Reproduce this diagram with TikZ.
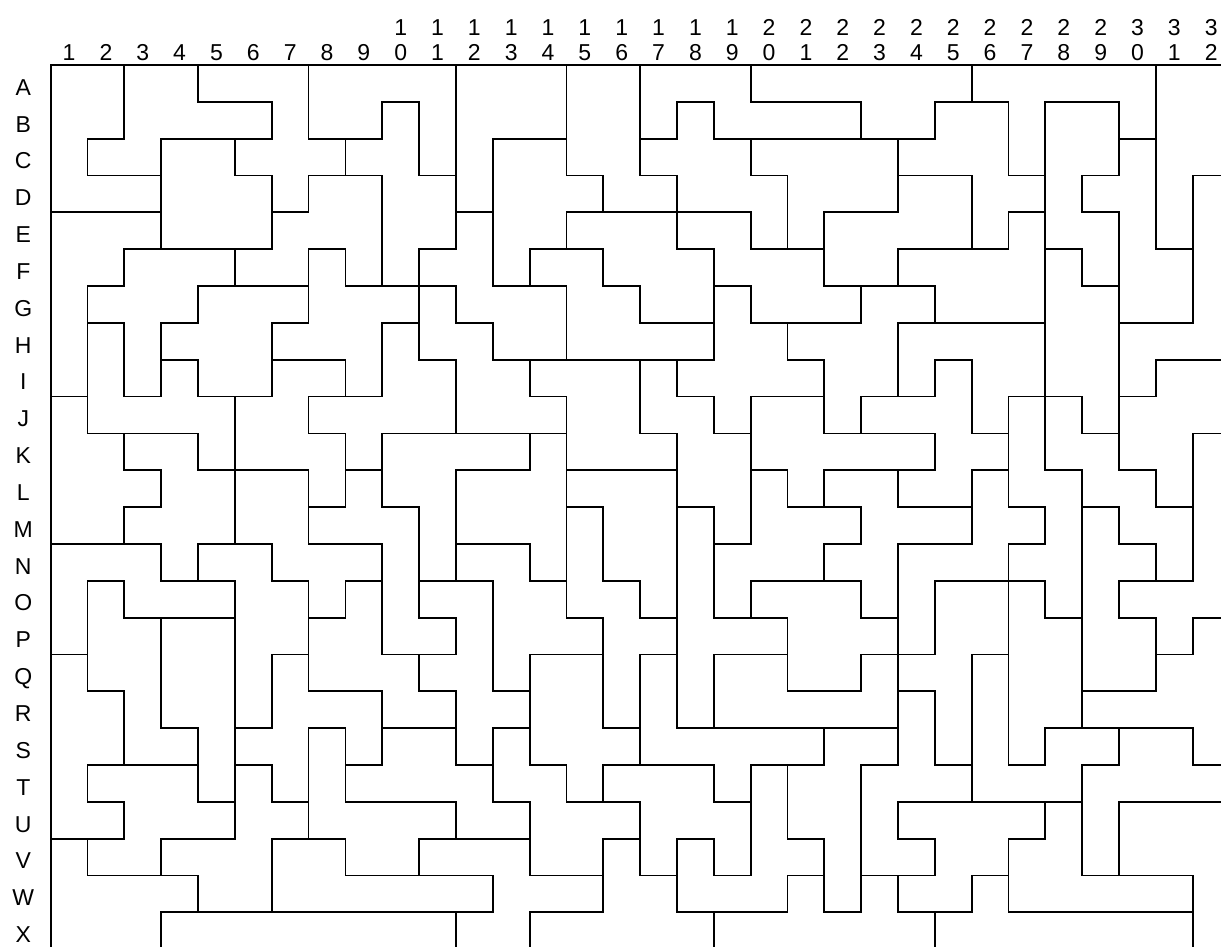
\documentclass[tikz,border=0pt]{standalone}
\usepackage{fontspec}
\setmainfont{Liberation Sans}
\begin{document}
\begin{tikzpicture}[x=1pt,y=-1pt,
  wall/.style={line width=1.8pt, line cap=rect, black},
  lbl/.style={font=\fontsize{23}{25}\selectfont, anchor=base, inner sep=0pt}]
\useasboundingbox (0,0) rectangle (1221,946);
\clip (0,0) rectangle (1221,946);
\begin{scope}[shift={(50.7,65)}, x=36.84pt, y=-36.84pt]
% horizontal walls: row boundary j, from column boundary a to b
\foreach \j/\a/\b in {
 0/0/32,
 1/4/6, 1/9/10, 1/17/18, 1/19/22, 1/24/26, 1/27/29,
 2/1/2, 2/3/6, 2/7/9, 2/12/14, 2/16/17, 2/18/24, 2/29/30,
 3/1/3, 3/5/6, 3/7/9, 3/10/11, 3/14/15, 3/16/17, 3/19/20, 3/23/25, 3/26/27, 3/28/29, 3/31/32,
 4/0/3, 4/6/7, 4/11/12, 4/14/19, 4/21/23, 4/26/27, 4/28/29,
 5/2/6, 5/7/8, 5/10/11, 5/13/15, 5/17/18, 5/19/21, 5/23/26, 5/27/28, 5/30/31,
 6/1/2, 6/4/7, 6/8/11, 6/12/14, 6/15/16, 6/18/19, 6/21/24, 6/28/29,
 7/1/2, 7/3/4, 7/6/7, 7/9/10, 7/11/12, 7/16/18, 7/19/22, 7/23/27, 7/29/31,
 8/3/4, 8/6/8, 8/10/11, 8/12/18, 8/20/21, 8/24/25, 8/30/32,
 9/0/1, 9/2/3, 9/4/6, 9/7/9, 9/13/14, 9/17/18, 9/19/21, 9/22/24, 9/26/28, 9/29/30,
 10/1/4, 10/7/8, 10/9/14, 10/16/17, 10/18/19, 10/21/24, 10/25/26, 10/28/29, 10/31/32,
 11/2/3, 11/4/7, 11/8/9, 11/11/13, 11/14/17, 11/19/20, 11/21/24, 11/25/26, 11/27/28, 11/29/30,
 12/2/3, 12/7/8, 12/9/10, 12/14/15, 12/17/18, 12/20/22, 12/23/25, 12/26/27, 12/28/29, 12/30/31,
 13/0/3, 13/4/6, 13/7/9, 13/11/13, 13/18/19, 13/21/22, 13/23/25, 13/26/27, 13/29/30,
 14/1/2, 14/3/5, 14/6/7, 14/8/9, 14/10/12, 14/13/14, 14/15/16, 14/19/22, 14/24/27, 14/29/31,
 15/2/5, 15/7/8, 15/10/11, 15/14/15, 15/16/17, 15/18/20, 15/22/23, 15/27/28, 15/29/30, 15/31/32,
 16/0/1, 16/6/7, 16/9/11, 16/13/15, 16/16/17, 16/18/20, 16/22/24, 16/25/26, 16/30/31,
 17/1/2, 17/7/9, 17/10/11, 17/12/13, 17/20/22, 17/23/24, 17/28/30,
 18/3/4, 18/5/6, 18/7/8, 18/9/11, 18/12/13, 18/15/16, 18/17/23, 18/27/31,
 19/1/4, 19/5/6, 19/8/9, 19/11/12, 19/13/14, 19/15/18, 19/19/21, 19/22/23, 19/24/25, 19/26/27, 19/28/29, 19/31/32,
 20/1/2, 20/4/5, 20/6/7, 20/8/11, 20/12/13, 20/14/16, 20/18/19, 20/23/28, 20/29/32,
 21/0/2, 21/3/5, 21/6/8, 21/10/13, 21/15/16, 21/17/18, 21/20/21, 21/23/24, 21/26/27,
 22/1/4, 22/8/12, 22/13/15, 22/16/17, 22/18/19, 22/20/21, 22/22/24, 22/25/26, 22/28/31,
 23/3/12, 23/13/15, 23/17/20, 23/21/22, 23/23/25, 23/26/31}
  \draw[wall] (\a,\j) -- (\b,\j);
% vertical walls: column boundary i, from row boundary a to b
\foreach \i/\a/\b in {
 0/0/24,
 1/2/3, 1/6/10, 1/14/17, 1/19/20, 1/21/22,
 2/0/2, 2/5/6, 2/7/9, 2/10/11, 2/12/13, 2/14/15, 2/17/19, 2/20/21,
 3/2/5, 3/7/9, 3/11/12, 3/13/14, 3/15/18, 3/21/22, 3/23/24,
 4/0/1, 4/6/7, 4/8/9, 4/10/11, 4/13/14, 4/18/20, 4/22/23,
 5/2/3, 5/5/6, 5/9/13, 5/14/21,
 6/1/2, 6/3/5, 6/7/9, 6/13/14, 6/16/18, 6/19/20, 6/21/23,
 7/0/2, 7/3/4, 7/5/7, 7/9/10, 7/11/13, 7/14/17, 7/18/21,
 8/2/3, 8/5/6, 8/8/9, 8/10/12, 8/14/15, 8/18/20, 8/21/22,
 9/1/2, 9/3/6, 9/7/9, 9/10/12, 9/13/16, 9/17/19,
 10/1/3, 10/5/8, 10/12/15, 10/16/17, 10/21/22,
 11/0/5, 11/6/7, 11/8/10, 11/11/14, 11/15/16, 11/17/19, 11/20/21, 11/23/24,
 12/2/6, 12/7/8, 12/14/17, 12/18/20, 12/22/23,
 13/5/6, 13/8/9, 13/10/11, 13/13/14, 13/16/19, 13/20/22, 13/23/24,
 14/0/3, 14/4/5, 14/6/8, 14/9/15, 14/19/20,
 15/3/4, 15/5/6, 15/12/14, 15/15/18, 15/19/20, 15/21/23,
 16/0/3, 16/6/7, 16/8/10, 16/14/15, 16/16/19, 16/20/22,
 17/1/2, 17/3/5, 17/8/9, 17/10/18, 17/21/23,
 18/1/2, 18/5/8, 18/9/10, 18/12/15, 18/16/18, 18/19/20, 18/21/22, 18/23/24,
 19/0/1, 19/2/3, 19/4/5, 19/6/7, 19/9/13, 19/14/15, 19/19/22,
 20/3/5, 20/7/8, 20/11/12, 20/15/17, 20/19/21, 20/22/23,
 21/4/6, 21/8/10, 21/11/12, 21/13/14, 21/18/19, 21/21/23,
 22/1/2, 22/6/7, 22/9/10, 22/12/13, 22/14/15, 22/16/17, 22/19/23,
 23/2/4, 23/5/6, 23/7/9, 23/11/12, 23/13/19, 23/20/21, 23/22/23,
 24/1/2, 24/6/7, 24/8/9, 24/10/11, 24/14/16, 24/17/19, 24/21/22, 24/23/24,
 25/0/1, 25/3/5, 25/8/10, 25/11/13, 25/16/20, 25/22/23,
 26/1/3, 26/4/5, 26/9/12, 26/13/19, 26/21/23,
 27/1/11, 27/12/13, 27/14/15, 27/18/19, 27/20/21,
 28/3/4, 28/5/6, 28/9/10, 28/11/18, 28/19/22,
 29/1/3, 29/4/11, 29/12/13, 29/14/15, 29/18/19, 29/20/22,
 30/0/5, 30/8/9, 30/11/12, 30/13/14, 30/15/17,
 31/3/7, 31/10/14, 31/15/16, 31/18/19, 31/22/24}
  \draw[wall] (\i,\a) -- (\i,\b);
\end{scope}
% column labels
\foreach \k in {1,...,9}
  \node[lbl] (col\k) at ({50.7+36.84*(\k-0.5)},60) {\k};
\foreach \k in {10,...,32}{
  \pgfmathtruncatemacro\t{\k/10}
  \pgfmathtruncatemacro\u{\k-10*\t}
  \node[lbl] (colt\k) at ({50.7+36.84*(\k-0.5)},35) {\t};
  \node[lbl] (colu\k) at ({50.7+36.84*(\k-0.5)},60) {\u};
}
% row labels
\foreach \r [count=\n from 0] in {A,B,C,D,E,F,G,H,I,J,K,L,M,N,O,P,Q,R,S,T,U,V,W,X}
  \node[lbl] (row\r) at (23.3,{95.2+36.84*\n}) {\r};
\end{tikzpicture}
\end{document}
